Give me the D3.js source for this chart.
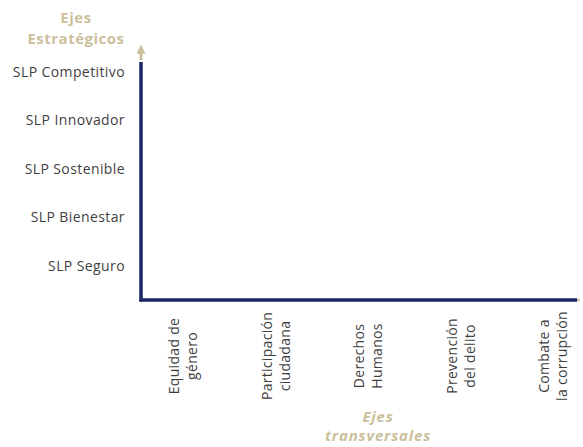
<!DOCTYPE html>
<html>
<head>
<meta charset="utf-8">
<script src="https://cdn.jsdelivr.net/npm/d3@7"></script>
<style>
  body { margin: 0; background: #fff; }
  svg { display: block; font-family: "Open Sans", sans-serif; }
</style>
</head>
<body>
<svg id="chart" width="583" height="447"></svg>
<script>
// Strategic axes (bottom to top) and transversal axes (left to right)
const ejesEstrategicos = ['SLP Seguro', 'SLP Bienestar', 'SLP Sostenible', 'SLP Innovador', 'SLP Competitivo'];
const ejesTransversales = [
  ['Equidad de', 'género'],
  ['Participación', 'ciudadana'],
  ['Derechos', 'Humanos'],
  ['Prevención', 'del delito'],
  ['Combate a', 'la corrupción']
];
const yTitle = ['Ejes', 'Estratégicos'];
const xTitle = ['Ejes', 'transversales'];

const svg = d3.select('#chart');
const navy = '#1d2766';
const gold = '#cbbf9c';
const grey = '#3f3f3f';

const origin = { x: 141, y: 300 };

const yScale = d3.scalePoint()
  .domain(ejesEstrategicos)
  .range([266, 72]);

const xScale = d3.scalePoint()
  .domain(ejesTransversales.map(d => d.join(' ')))
  .range([184, 554]);

// arrow head
const defs = svg.append('defs');
defs.append('marker')
  .attr('id', 'arrow')
  .attr('viewBox', '0 0 10 10')
  .attr('refX', 2).attr('refY', 5)
  .attr('markerWidth', 3).attr('markerHeight', 3)
  .attr('orient', 'auto')
  .append('path')
  .attr('d', 'M0,0 L10,5 L0,10 Z')
  .attr('fill', gold);

// y axis labels
const yAxis = svg.append('g')
  .attr('transform', `translate(${origin.x - 16}, 0)`)
  .call(d3.axisLeft(yScale).tickSize(0).tickPadding(0));
yAxis.select('.domain').remove();
yAxis.selectAll('text')
  .attr('fill', grey)
  .style('font-size', '14px')
  .style('letter-spacing', '0.4px')
  .style('font-family', '"Open Sans", sans-serif');

// x axis labels, two rotated lines each
const xLabels = svg.append('g')
  .selectAll('g')
  .data(ejesTransversales)
  .enter()
  .append('g')
  .attr('transform', d => `translate(${xScale(d.join(' '))}, 356) rotate(-90)`);
xLabels.append('text')
  .attr('text-anchor', 'middle')
  .attr('fill', grey)
  .style('font-size', '14px')
  .style('letter-spacing', '0.3px')
  .selectAll('tspan')
  .data(d => d)
  .enter()
  .append('tspan')
  .attr('x', 0)
  .attr('y', (d, i) => i === 0 ? -5 : 13)
  .text(d => d);

// axis lines
svg.append('line')
  .attr('x1', origin.x).attr('y1', origin.y + 1.5)
  .attr('x2', origin.x).attr('y2', 62)
  .attr('stroke', navy).attr('stroke-width', 3.5);
svg.append('line')
  .attr('x1', origin.x).attr('y1', 60)
  .attr('x2', origin.x).attr('y2', 52)
  .attr('stroke', gold).attr('stroke-width', 3)
  .attr('marker-end', 'url(#arrow)');
svg.append('line')
  .attr('x1', origin.x - 1.5).attr('y1', origin.y)
  .attr('x2', 577).attr('y2', origin.y)
  .attr('stroke', navy).attr('stroke-width', 3.5);
svg.append('line')
  .attr('x1', 577).attr('y1', origin.y)
  .attr('x2', 580).attr('y2', origin.y)
  .attr('stroke', gold).attr('stroke-width', 2.5);

// titles
svg.append('text')
  .attr('text-anchor', 'middle')
  .attr('fill', gold)
  .style('font-size', '15px')
  .style('font-weight', 'bold')
  .style('letter-spacing', '0.5px')
  .selectAll('tspan')
  .data(yTitle)
  .enter()
  .append('tspan')
  .attr('x', 76)
  .attr('y', (d, i) => 23 + i * 21)
  .text(d => d);

svg.append('text')
  .attr('text-anchor', 'middle')
  .attr('fill', gold)
  .style('font-size', '15px')
  .style('font-weight', 'bold')
  .style('font-style', 'italic')
  .style('letter-spacing', '0.8px')
  .selectAll('tspan')
  .data(xTitle)
  .enter()
  .append('tspan')
  .attr('x', 378)
  .attr('y', (d, i) => 422 + i * 19)
  .text(d => d);
</script>
</body>
</html>
